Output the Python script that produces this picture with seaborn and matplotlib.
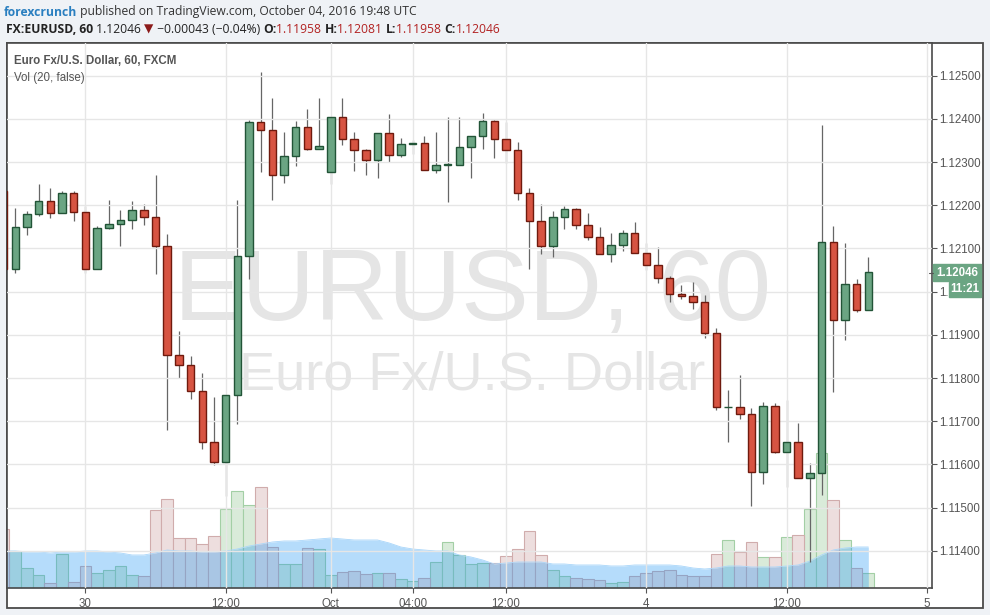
import numpy as np
import pandas as pd
import matplotlib
matplotlib.use("Agg")
import matplotlib.pyplot as plt
from matplotlib.patches import Rectangle
from matplotlib.lines import Line2D
import seaborn as sns

# EURUSD hourly bars, Sep 29 17:00 .. Oct 4 19:00 (weekend skipped), prices in 1e-5
opens = [112232, 112053, 112150, 112180, 112210, 112183, 112229, 112185, 112053, 112148,
         112157, 112166, 112190, 112173, 112106, 111854, 111829, 111769, 111651, 111605,
         111760, 112083, 112393, 112375, 112271, 112314, 112382, 112331, 112277, 112405,
         112354, 112328, 112305, 112368, 112317, 112342, 112343, 112282, 112294, 112294,
         112335, 112361, 112395, 112354, 112328, 112229, 112164, 112106, 112173, 112192,
         112155, 112127, 112088, 112109, 112136, 112090, 112062, 112031, 111994, 111990,
         111975, 111904, 111733, 111733, 111716, 111582, 111735, 111628, 111652, 111568,
         111580, 112115, 111934, 112017, 111958]
highs = [112240, 112193, 112186, 112250, 112239, 112234, 112234, 112197, 112153, 112211,
         112188, 112209, 112202, 112269, 112133, 111908, 111850, 111811, 111756, 111760,
         112211, 112398, 112509, 112449, 112370, 112395, 112423, 112449, 112405, 112449,
         112370, 112331, 112368, 112410, 112356, 112351, 112361, 112370, 112405, 112405,
         112361, 112414, 112398, 112393, 112347, 112240, 112203, 112187, 112197, 112194,
         112183, 112150, 112136, 112143, 112160, 112113, 112104, 112037, 112015, 112023,
         111992, 111915, 111772, 111807, 111730, 111745, 111742, 111750, 111696, 111603,
         112386, 112152, 112113, 112029, 112081]
lows = [112040, 112042, 112131, 112175, 112170, 112183, 112163, 112043, 112053, 112145,
        112106, 112145, 112154, 112041, 111680, 111800, 111752, 111636, 111599, 111528,
        111694, 112029, 112277, 112213, 112251, 112291, 112327, 112331, 112249, 112339,
        112279, 112270, 112263, 112300, 112311, 112319, 112282, 112275, 112207, 112294,
        112263, 112330, 112309, 112298, 112213, 112053, 112088, 112081, 112146, 112146,
        112120, 112088, 112069, 112095, 112090, 112051, 112021, 111975, 111982, 111959,
        111892, 111725, 111651, 111704, 111503, 111554, 111626, 111547, 111568, 111373,
        111529, 111767, 111887, 111952, 111958]
closes = [112053, 112150, 112180, 112210, 112183, 112229, 112185, 112053, 112148, 112157,
          112166, 112190, 112173, 112106, 111854, 111829, 111769, 111651, 111605, 111760,
          112083, 112393, 112375, 112271, 112314, 112382, 112331, 112338, 112405, 112354,
          112328, 112305, 112368, 112317, 112342, 112343, 112282, 112294, 112295, 112335,
          112361, 112395, 112354, 112328, 112229, 112164, 112106, 112173, 112192, 112155,
          112127, 112088, 112109, 112136, 112090, 112062, 112031, 111994, 111990, 111975,
          111904, 111733, 111734, 111716, 111582, 111735, 111628, 111652, 111568, 111580,
          112115, 111934, 112017, 111957, 112046]
volumes = [59, 37, 20, 13, 5, 34, 6, 22, 15, 18, 22, 13, 12, 78, 89, 50, 50, 44, 52, 79,
           97, 83, 101, 41, 24, 24, 40, 39, 13, 16, 17, 14, 15, 15, 9, 7, 10, 26, 46, 33,
           24, 25, 25, 32, 39, 57, 33, 18, 12, 10, 9, 8, 5, 6, 12, 15, 17, 18, 13, 12,
           12, 34, 48, 36, 46, 31, 31, 51, 53, 79, 135, 88, 48, 20, 15]
vol_ma = [37, 37, 36, 36, 35, 36, 36, 37, 37, 36, 35, 33, 33, 35, 38, 37, 37, 36, 36, 37,
          39, 42, 44, 46, 47, 47, 48, 49, 50, 49, 48, 48, 48, 45, 41, 39, 38, 37, 37, 33,
          31, 28, 24, 25, 26, 26, 26, 24, 24, 23, 23, 23, 22, 22, 23, 23, 23, 23, 22, 20,
          19, 20, 22, 22, 21, 21, 21, 22, 23, 27, 33, 38, 40, 41, 41]
tick_bars = [7, 19, 28, 35, 43, 55, 67, 79]
tick_labels = ["30", "12:00", "Oct", "04:00", "12:00", "4", "12:00", "5"]
price_ticks = [1.114, 1.115, 1.116, 1.117, 1.118, 1.119, 1.120, 1.121, 1.122, 1.123, 1.124, 1.125]

UP, UP_EDGE = "#6ba583", "#225437"
DN, DN_EDGE = "#d75442", "#6f1a0e"
BG = "#eff2f6"
W, H = 990, 615

sns.set_theme(style="white")
plt.rcParams["font.family"] = ["Liberation Sans", "DejaVu Sans"]

o = np.array(opens) / 1e5
h = np.array(highs) / 1e5
l = np.array(lows) / 1e5
c = np.array(closes) / 1e5
bars = np.arange(len(o))
up = c >= o

df = pd.DataFrame({"bar": bars, "volume": volumes, "up": up})

def fx(px):
    return px / W

def fy(py):
    return 1 - py / H

fig = plt.figure(figsize=(W / 100, H / 100), dpi=100, facecolor=BG)
fig.add_artist(Rectangle((fx(7), fy(608)), 976 / W, 565 / H, transform=fig.transFigure,
                         facecolor="white", edgecolor="#4a4a4a", lw=1.3, zorder=-1))

ax = fig.add_axes([fx(7), fy(588), 925 / W, 545 / H])
vax = ax.twinx()
ax.yaxis.tick_right()
ax.set_zorder(2)
ax.patch.set_visible(False)
vax.set_zorder(1)
vax.patch.set_visible(True)
vax.patch.set_facecolor("white")

# watermark
vax.text(fx(472), fy(320), "EURUSD, 60", transform=fig.transFigure, ha="center",
         va="baseline", fontsize=73, color="#e5e5e5", zorder=0)
vax.text(fx(472), fy(390), "Euro Fx/U.S. Dollar", transform=fig.transFigure, ha="center",
         va="baseline", fontsize=39, color="#e5e5e5", zorder=0)

# volume
sns.barplot(data=df[df.up], x="bar", y="volume", native_scale=True, width=1.0,
            color="#d9ebd9", edgecolor="#a3cfa5", linewidth=0.8, saturation=1,
            errorbar=None, ax=vax)
sns.barplot(data=df[~df.up], x="bar", y="volume", native_scale=True, width=1.0,
            color="#eddede", edgecolor="#d0acac", linewidth=0.8, saturation=1,
            errorbar=None, ax=vax)
vax.fill_between(bars, 0, vol_ma, color="#2196f3", alpha=0.33, lw=0, zorder=3)
sns.lineplot(x=bars, y=vol_ma, color="#a9d6fa", lw=0.6, ax=vax, zorder=3)
vax.set_ylim(0, 545)
vax.set_yticks([])
vax.set_ylabel("")
for s in vax.spines.values():
    s.set_visible(False)

# candles
ax.vlines(bars, l, h, color="#666666", lw=0.9, zorder=2)
body = np.maximum(np.abs(c - o), 1e-8)
ax.bar(bars[up], body[up], bottom=np.minimum(o, c)[up], width=0.64,
       color=UP, edgecolor=UP_EDGE, lw=1.0, zorder=3)
ax.bar(bars[~up], body[~up], bottom=np.minimum(o, c)[~up], width=0.64,
       color=DN, edgecolor=DN_EDGE, lw=1.0, zorder=3)

ax.set_xlim(0.291, 79.45)
ax.set_ylim(1.113139, 1.1257546)
ax.set_yticks(price_ticks)
# the 1.12000 label sits under the countdown tag, only "1." shows
ax.set_yticklabels(["1." if abs(p - 1.120) < 1e-9 else f"{p:.5f}" for p in price_ticks])
ax.set_xticks(tick_bars)
ax.set_xticklabels(tick_labels)
ax.tick_params(axis="both", labelsize=8.3, labelcolor="#555555", color="#555555",
               length=3.5, width=0.8, direction="out")
ax.tick_params(axis="y", pad=2, right=True, left=False)
ax.tick_params(axis="x", pad=3.5, bottom=True)
ax.grid(True, color="#e6e6e6", lw=1)
ax.set_axisbelow(False)
ax.set_xlabel("")
ax.set_ylabel("")
for s in ax.spines.values():
    s.set_color("#4a4a4a")
    s.set_linewidth(1.2)

# series names inside the pane
fig.text(fx(14), fy(61), "Euro Fx/U.S. Dollar, 60, FXCM", fontsize=8.3, weight="bold",
         color="#555555", va="center", zorder=6)
fig.text(fx(14), fy(78), "Vol (20, false)", fontsize=8.3, color="#555555",
         va="center", zorder=6)

# last price / countdown tags
fig.add_artist(Rectangle((fx(933), fy(281)), 48 / W, 17 / H, transform=fig.transFigure,
                         color=UP, zorder=5))
fig.add_artist(Rectangle((fx(949), fy(297)), 32 / W, 15 / H, transform=fig.transFigure,
                         color=UP, zorder=5))
fig.add_artist(Line2D([fx(929), fx(933)], [fy(272.5), fy(272.5)], transform=fig.transFigure,
                      color="#555555", lw=0.8, zorder=5))
fig.text(fx(957), fy(272.5), "1.12046", fontsize=8.3, weight="bold", color="white",
         ha="center", va="center", zorder=6)
fig.text(fx(965), fy(289.5), "11:21", fontsize=8.3, weight="bold", color="white",
         ha="center", va="center", zorder=6)

# header
renderer = fig.canvas.get_renderer()
hdr_font = ["Open Sans", "DejaVu Sans"]

def chain(pieces, x0, y):
    x = x0
    for s, col, wt in pieces:
        t = fig.text(fx(x), fy(y), s, color=col, weight=wt, fontsize=8.75,
                     family=hdr_font, va="center")
        x += t.get_window_extent(renderer).width

chain([("forexcrunch", "#2a7fc0", "bold"),
       (" published on TradingView.com, October 04, 2016 19:48 UTC", "#333333", "normal")],
      4, 12)
chain([("FX:EURUSD, 60", "#222222", "bold"),
       (" 1.12046 ", "#222222", "normal"),
       ("\u25bc", "#8b1a1a", "normal"),
       (" \u22120.00043 (\u22120.04%) ", "#222222", "normal"),
       ("O:", "#222222", "bold"), ("1.11958 ", "#b22222", "normal"),
       ("H:", "#222222", "bold"), ("1.12081 ", "#b22222", "normal"),
       ("L:", "#222222", "bold"), ("1.11958 ", "#b22222", "normal"),
       ("C:", "#222222", "bold"), ("1.12046", "#b22222", "normal")],
      6, 29.5)

fig.savefig("out.png", dpi=100, facecolor=BG)
